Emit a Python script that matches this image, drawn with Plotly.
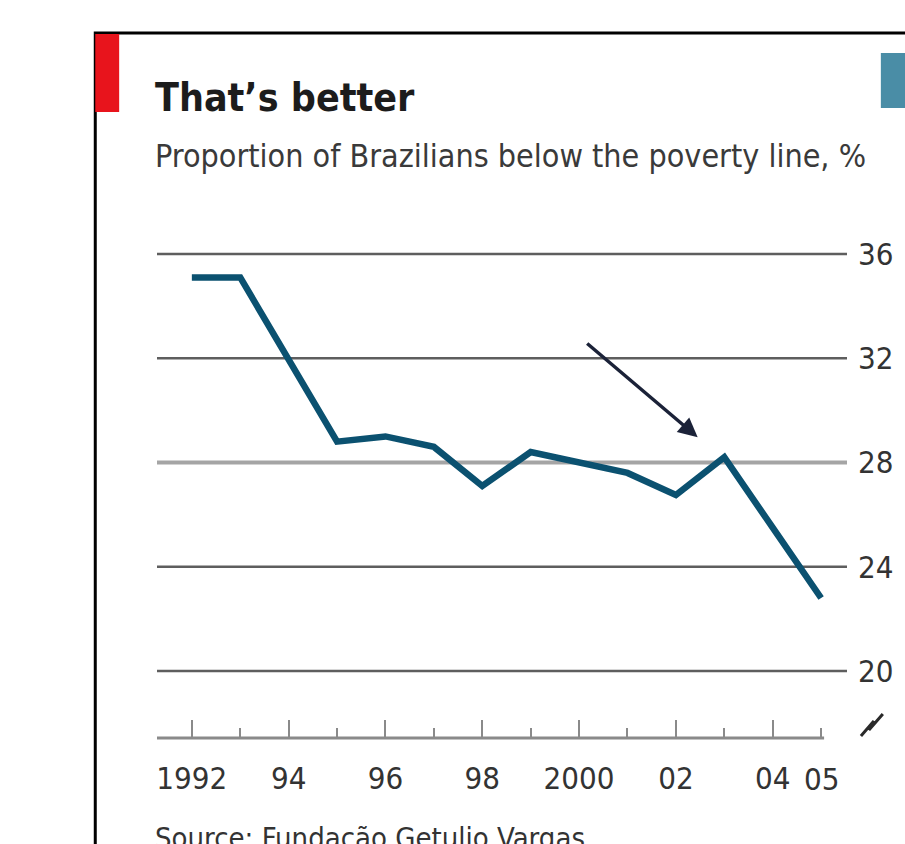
import plotly.graph_objects as go

# ---- data ----
years = [1992, 1993, 1995, 1996, 1997, 1998, 1999, 2001, 2002, 2003, 2004, 2005]
poverty = [35.1, 35.1, 28.8, 29.0, 28.6, 27.1, 28.4, 27.6, 26.75, 28.2, 25.5, 22.8]
x_tickvals = [1992, 1994, 1996, 1998, 2000, 2002, 2004]
x_ticktext = ["1992", "94", "96", "98", "2000", "02", "04"]
extra_label_year = 2005
extra_label_text = "05"
y_tickvals = [20, 24, 28, 32, 36]
title = "That\u2019s better"
subtitle = "Proportion of Brazilians below the poverty line, %"
source = "Source: Funda\u00e7\u00e3o Getulio Vargas"

# ---- geometry (pixels) ----
W, H = 905, 844
L, R, T, B = 157, 850, 230, 738
pw, ph = R - L, B - T


def px(xp):
    return (xp - L) / pw


def py(yp):
    return (B - yp) / ph


FONT = "DejaVu Sans Condensed, Liberation Sans Narrow, sans-serif"
LINE = "#0b5170"

fig = go.Figure()
fig.add_trace(go.Scatter(
    x=years, y=poverty, mode="lines",
    line=dict(color=LINE, width=6.5, shape="linear"),
    hoverinfo="skip", showlegend=False,
))

shapes = []
# frame
shapes.append(dict(type="rect", xref="paper", yref="paper",
                   x0=px(95), x1=px(1100), y0=py(1100), y1=py(33),
                   line=dict(color="black", width=3), fillcolor="rgba(0,0,0,0)", layer="below"))
# red tag
shapes.append(dict(type="rect", xref="paper", yref="paper",
                   x0=px(95), x1=px(119), y0=py(112), y1=py(34),
                   line=dict(width=0), fillcolor="#E8141C"))
# blue box top right
shapes.append(dict(type="rect", xref="paper", yref="paper",
                   x0=px(884), x1=px(912), y0=py(108), y1=py(53),
                   line=dict(width=0), fillcolor="#4A8DA6"))
# gridlines
for v in y_tickvals:
    light = (v == 28)
    shapes.append(dict(type="line", xref="paper", yref="y",
                       x0=0, x1=1, y0=v, y1=v,
                       line=dict(color="#a5a5a5" if light else "#5e5e5e",
                                 width=4 if light else 2.5),
                       layer="below"))
# x axis line
shapes.append(dict(type="line", xref="paper", yref="paper",
                   x0=0, x1=px(827), y0=0, y1=0,
                   line=dict(color="#8a8a8a", width=3), layer="below"))
# axis break symbol
path = "M {} {} L {} {} L {} {} L {} {}".format(
    px(864), py(736), px(877), py(721), px(872), py(730), px(886), py(714))
shapes.append(dict(type="path", xref="paper", yref="paper", path=path,
                   line=dict(color="#2a2a2a", width=3)))

annotations = [
    dict(text=title, xref="paper", yref="paper", x=px(153), y=py(97),
         xanchor="left", yanchor="middle", showarrow=False,
         font=dict(family=FONT, size=39, color="#1c1c1c", weight="bold")),
    dict(text=subtitle, xref="paper", yref="paper", x=px(153), y=py(156),
         xanchor="left", yanchor="middle", showarrow=False,
         font=dict(family=FONT, size=32, color="#3a3a3a")),
    dict(text=source, xref="paper", yref="paper", x=px(153), y=py(838),
         xanchor="left", yanchor="middle", showarrow=False,
         font=dict(family=FONT, size=29, color="#333333")),
    dict(text=extra_label_text, xref="x", yref="paper", x=extra_label_year, y=py(779),
         xanchor="center", yanchor="middle", showarrow=False,
         font=dict(family=FONT, size=31, color="#333333")),
    dict(text="", xref="x", yref="y", x=2002.45, y=28.97,
         showarrow=True, arrowhead=2, arrowsize=1.1, arrowwidth=3.5,
         arrowcolor="#1b2238", ax=-112, ay=-95, axref="pixel", ayref="pixel"),
]

x0 = 1992 - (192 - L) / 48.615
x1 = x0 + pw / 48.615
y_per = 104.2 / 4
y1 = 36 + (254 - T) / y_per
y0 = 20 - (B - 671) / y_per

fig.update_layout(
    width=W, height=H,
    margin=dict(l=L, r=W - R, t=T, b=H - B, pad=0),
    paper_bgcolor="white", plot_bgcolor="white",
    showlegend=False,
    shapes=shapes, annotations=annotations,
    xaxis=dict(range=[x0, x1], tickmode="array", tickvals=x_tickvals, ticktext=x_ticktext,
               ticks="inside", ticklen=18, tickwidth=2, tickcolor="#8a8a8a",
               showline=False, showgrid=False, zeroline=False,
               tickfont=dict(family=FONT, size=31, color="#333333"),
               minor=dict(tickmode="linear", tick0=1992, dtick=1, ticks="inside",
                          ticklen=10, tickwidth=2, tickcolor="#8a8a8a", showgrid=False),
               ticklabelstandoff=19),
    yaxis=dict(range=[y0, y1], tickmode="array", tickvals=y_tickvals,
               side="right", ticks="", showline=False, zeroline=False,
               showgrid=False,
               tickfont=dict(family=FONT, size=31, color="#333333"),
               ticklabelstandoff=10),
)

fig.write_html("out.html")
